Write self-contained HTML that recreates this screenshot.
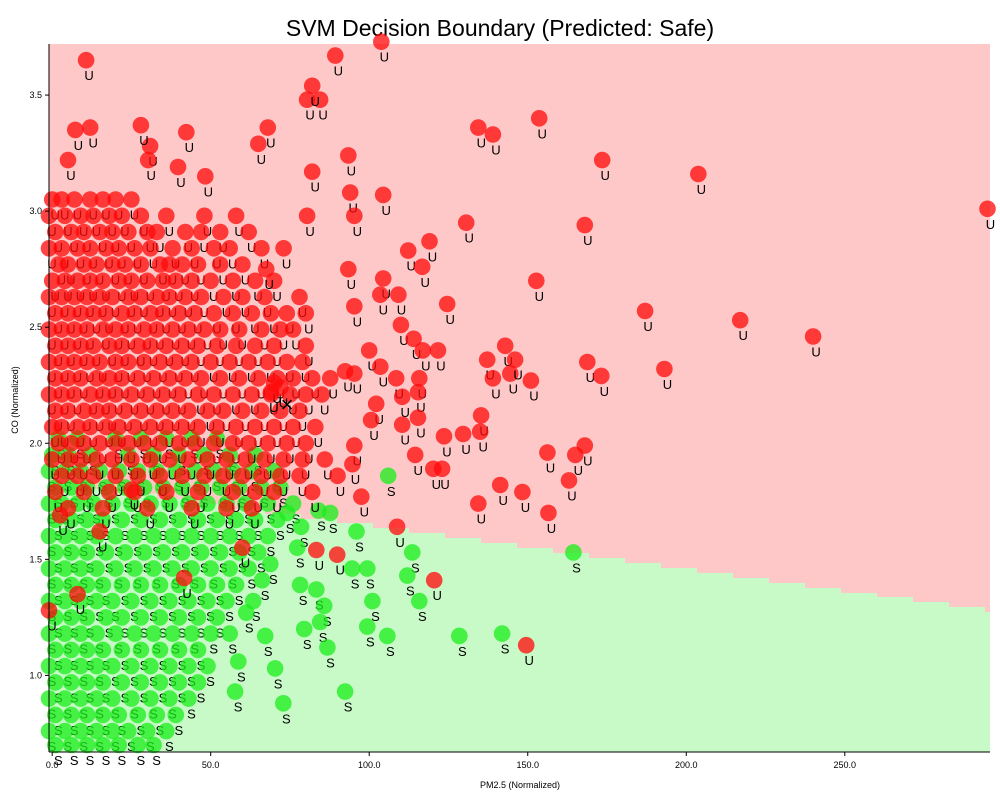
<!DOCTYPE html>
<html><head><meta charset="utf-8">
<style>
html,body{margin:0;padding:0;background:#fff;}
svg{display:block;font-family:"Liberation Sans",sans-serif;}
</style></head>
<body>
<svg id="chart" width="1000" height="800">
<text x="500" y="36" text-anchor="middle" font-size="23">SVM Decision Boundary (Predicted: Safe)</text>
<g id="bg"></g>
<g id="pts"></g>
<g id="axes"></g>
<text x="520" y="788" text-anchor="middle" font-size="9">PM2.5 (Normalized)</text>
<text x="18" y="400" text-anchor="middle" font-size="9" transform="rotate(-90 18 400)">CO (Normalized)</text>
</svg>
<script>
const xTicks=[0,50,100,150,200,250];
const yTicks=[1.0,1.5,2.0,2.5,3.0,3.5];
// outlier red (Unsafe) points [pm25, co]
const redOut=[[10.7,3.65],[103.8,3.73],[89.3,3.67],[80.4,3.48],[84.5,3.48],[82,3.54],[42.3,3.34],[30.9,3.28],[28,3.37],[68,3.36],[65,3.29],[7.3,3.35],[12,3.36],[5,3.22],[30.3,3.22],[93.4,3.24],[82,3.17],[48.3,3.15],[39.7,3.19],[134.4,3.36],[139,3.33],[153.6,3.40],[173.5,3.22],[203.8,3.16],[295,3.01],[104.4,3.07],[94,3.08],[80.4,2.98],[95.3,2.98],[130.6,2.95],[168,2.94],[119,2.87],[112.3,2.83],[116.7,2.76],[73,2.84],[67.5,2.75],[93.4,2.75],[104.4,2.71],[109.2,2.64],[103.5,2.64],[95.3,2.59],[124.6,2.60],[152.7,2.70],[187,2.57],[217,2.53],[110,2.51],[114,2.45],[142.9,2.42],[137.2,2.36],[121.7,2.40],[116.9,2.40],[100,2.40],[168.8,2.35],[173.2,2.29],[193.1,2.32],[240,2.46],[139,2.28],[144.5,2.30],[151,2.27],[146,2.36],[103.5,2.33],[108.5,2.28],[115.8,2.28],[115.4,2.22],[110.4,2.20],[102.2,2.17],[92.4,2.31],[95.3,2.30],[87.7,2.28],[100.6,2.10],[110.4,2.08],[115.4,2.11],[135.3,2.12],[135,2.05],[129.6,2.04],[123.6,2.03],[156.2,1.96],[168,1.99],[165,1.95],[114.5,1.95],[95.3,1.99],[94.7,1.91],[120.2,1.89],[123,1.89],[141.3,1.82],[148.3,1.79],[163,1.84],[134.4,1.74],[156.5,1.70],[97.5,1.77],[108.8,1.64],[83.3,1.54],[89.9,1.52],[120.5,1.41],[149.5,1.13],[41.6,1.42],[-1,1.28],[2.5,1.69],[15,1.62],[25,1.80],[60,1.55],[8,1.35],[70,2.26],[72,2.24],[69,2.22]];
// outlier green (Safe) points
const greenOut=[[106,1.86],[164.4,1.53],[96,1.62],[113.6,1.53],[112,1.43],[94.6,1.46],[99.4,1.46],[101,1.32],[115.8,1.32],[105.7,1.17],[99.4,1.21],[128.4,1.17],[141.9,1.18],[92.4,0.93],[72.9,0.88],[70.3,1.03],[57.7,0.93],[78.2,1.39],[83.3,1.37],[85.8,1.30],[84.5,1.23],[79.5,1.20],[86.8,1.12],[87.7,1.70],[84,1.71],[74.1,1.70],[78.5,1.64],[77.3,1.55],[68.8,1.48],[66.2,1.41],[63.4,1.32],[67.2,1.17],[58.7,1.06],[61.2,1.27]];
// dense cluster rows: CO value and PM2.5 values
const redRowY=[3.05,2.98,2.91,2.84,2.77,2.70,2.63,2.56,2.49,2.42,2.35,2.28,2.21,2.14,2.07,2.00,1.93,1.86,1.79,1.72];
const redRowX=[
[0,3,7,12,16,20,25],
[-1,4,9,13,18,22,28,36,48,58],
[1,6,10,15,19,24,30,33,42,47,53,62],
[-1,3,8,12,17,21,26,31,38,44,51,56,66],
[2,5,10,14,19,23,28,34,37,41,46,53,60],
[0,4,8,12,16,21,25,30,35,39,44,50,57,64,70],
[-1,3,7,11,15,19,24,28,33,37,42,47,54,60,67,78],
[1,5,9,13,17,22,26,31,35,40,45,51,57,63,69,74,80],
[-1,3,7,11,16,20,24,29,33,38,43,48,53,59,66,72,76],
[1,5,9,13,18,22,27,31,36,41,46,52,58,64,70,80],
[-1,3,7,11,15,20,24,29,34,39,44,50,56,62,68,74,79],
[1,5,9,14,18,22,27,32,37,42,47,53,59,65,71,76,82],
[-1,3,7,12,16,20,25,30,35,40,46,51,57,63,69,75,80,85],
[1,5,10,14,18,23,28,33,38,43,49,54,60,66,72,78],
[0,3,8,12,17,21,26,31,36,41,46,52,58,64,70,76,83],
[2,6,10,15,20,24,29,34,40,45,51,57,62,68,74,80],
[0,5,9,14,19,25,31,37,43,49,55,61,67,73,79,86],
[3,8,13,20,27,34,41,48,54,60,66,72,78,90],
[1,10,18,26,36,46,57,64,70,82],
[5,16,30,44,55,63]];
const greenRowY=[2.02,1.95,1.88,1.81,1.74,1.67,1.60,1.53,1.46,1.39,1.32,1.25,1.18,1.11,1.04,0.97,0.90,0.83,0.76,0.70];
const greenRowX=[
[2,8,20,28,36,44,52],
[0,5,12,24,32,40,48,56,64],
[-1,4,9,15,21,27,33,39,45,51,57,63,70],
[1,6,11,17,23,29,35,41,47,53,59,66,72],
[-1,3,8,13,19,25,31,37,43,49,55,61,68,76],
[1,6,11,16,22,28,34,40,46,52,58,64,71],
[-1,4,9,14,20,26,32,38,44,50,56,62,68],
[1,6,11,17,23,29,35,41,47,53,59,65],
[-1,4,9,14,20,26,32,38,44,50,56,62],
[1,6,11,16,22,28,34,40,46,52,58],
[-1,4,9,14,19,25,31,37,43,49,55],
[1,6,11,17,22,28,34,40,46,52],
[-1,4,9,14,20,26,32,38,44,50,56],
[1,6,11,16,22,28,34,40,46],
[-1,4,9,14,19,25,31,37,43,49],
[1,6,11,16,22,28,34,40,46],
[-1,4,9,14,19,25,31,37,43],
[1,6,11,16,21,27,33,39],
[-1,4,9,14,19,24,30,36],
[1,6,11,16,21,27,32]];

const NS="http://www.w3.org/2000/svg";
const L=49,R=990,T=44,B=752;
const X0=-1.0,X1=295.8,Y0=0.67,Y1=3.72;
function sx(v){return L+(v-X0)/(X1-X0)*(R-L);}
function sy(v){return B-(v-Y0)/(Y1-Y0)*(B-T);}
function mk(tag,attrs,parent){const e=document.createElementNS(NS,tag);for(const k in attrs)e.setAttribute(k,attrs[k]);parent.appendChild(e);return e;}

const bg=document.getElementById('bg');
const pinkRect=mk('rect',{x:L,y:T,width:R-L,height:B-T,fill:'#ffc8c8'},bg);


let d='M'+L+','+B;
for(let x=L;x<R;x+=36){
  const yy=Math.round(484+(x-L)*0.137);
  d+=' L'+x+','+yy+' L'+Math.min(x+36,R)+','+yy;
}
d+=' L'+R+','+B+' Z';
const greenPath=mk('path',{d:d,fill:'#c8fac8'},bg);



const pts=document.getElementById('pts');
function drawPoint(v,cls){
  const px=sx(v[0]),py=sy(v[1]);
  const circ=mk('circle',{cx:px.toFixed(1),cy:py.toFixed(1),r:8.3,fill:cls==='U'?'#ff0a0a':'#1aee1a','fill-opacity':0.76},pts);
  
  
  const t=mk('text',{x:(px+3).toFixed(1),y:(py+20).toFixed(1),'text-anchor':'middle','font-size':13,fill:'#000'},pts);
  t.textContent=cls;
  
  
}
greenRowY.forEach((y,i)=>greenRowX[i].forEach(x=>drawPoint([x,y],'S')));
greenOut.forEach(p=>drawPoint(p,'S'));
redRowY.forEach((y,i)=>redRowX[i].forEach(x=>drawPoint([x,y],'U')));
redOut.forEach(p=>drawPoint(p,'U'));
const xm=mk('text',{x:287,y:412,'text-anchor':'middle','font-size':22},pts);
xm.textContent='×';



const ax=document.getElementById('axes');
const ys=mk('line',{x1:L,y1:T,x2:L,y2:B,stroke:'#000','stroke-width':1},ax);


const xs=mk('line',{x1:L,y1:B,x2:R,y2:B,stroke:'#000','stroke-width':1},ax);


xTicks.forEach(v=>{
  const x=sx(v);
  mk('line',{x1:x,y1:B,x2:x,y2:B+4,stroke:'#000'},ax);
  const t=mk('text',{x:x,y:B+16,'text-anchor':'middle','font-size':9},ax);
  t.textContent=v.toFixed(1);
  
  
});
yTicks.forEach(v=>{
  const y=sy(v);
  mk('line',{x1:L-4,y1:y,x2:L,y2:y,stroke:'#000'},ax);
  const t=mk('text',{x:L-7,y:y+3,'text-anchor':'end','font-size':9},ax);
  t.textContent=v.toFixed(1);
  
  
});
</script>
</body></html>
